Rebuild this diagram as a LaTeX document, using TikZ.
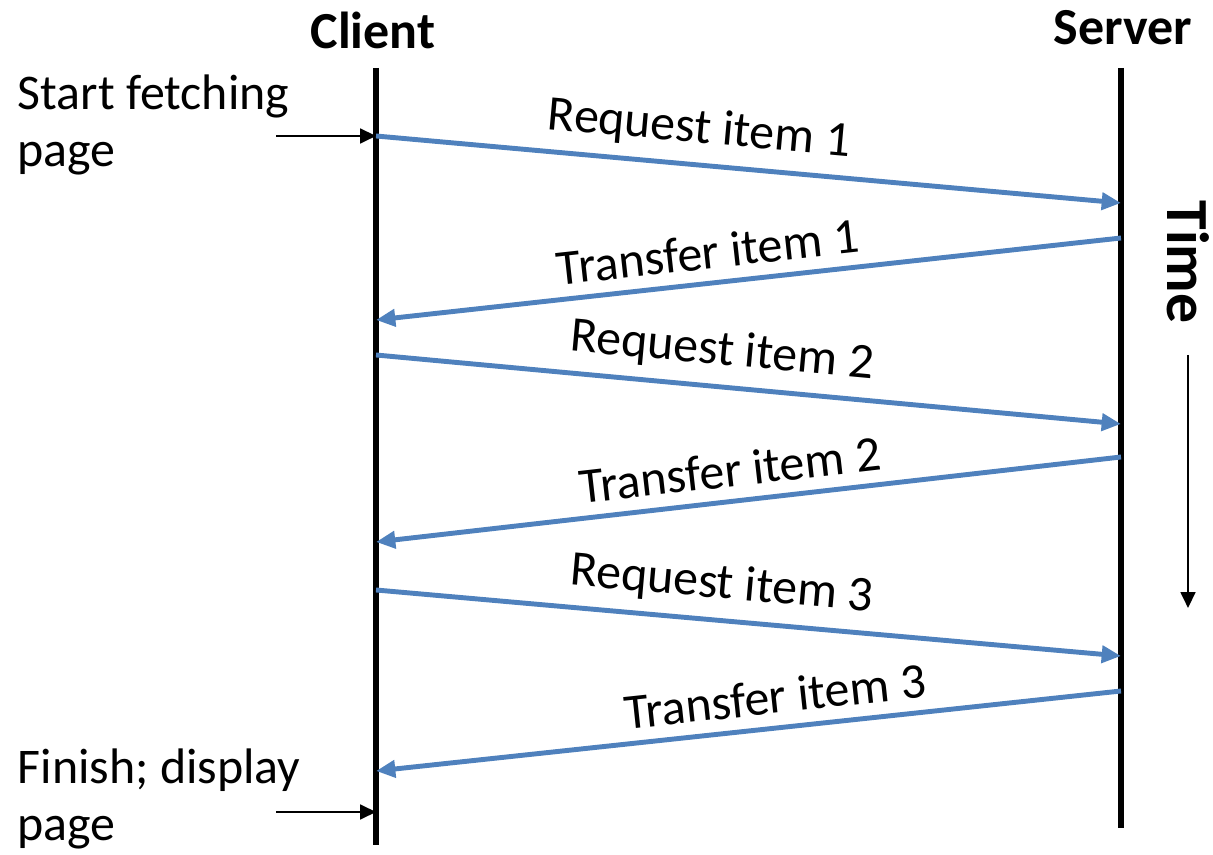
\documentclass[tikz,border=0pt]{standalone}
\usepackage{fontspec}
\setmainfont{Carlito}
\usepackage{tikz}
\usetikzlibrary{arrows.meta}
\usetikzlibrary{calc}

\definecolor{msgblue}{RGB}{79,129,189}
\tikzset{
  lifeline/.style={black, line width=1.5pt},
  msg/.style={draw=msgblue, line width=1.4pt, -{Triangle[length=5.5pt,width=4.8pt]}},
  msglabel/.style={sloped, above, font=\fontsize{14.2}{17}\selectfont},
  note/.style={black, line width=0.6pt, -{Triangle[length=4.5pt,width=4.2pt]}},
  notetext/.style={anchor=north west, inner sep=0pt, align=left, font=\fontsize{14.2}{16.2}\selectfont},
  party/.style={font=\fontsize{14.8}{17}\selectfont\bfseries}
}

\begin{document}
\begin{tikzpicture}
        \useasboundingbox (0,0) rectangle (12.13,8.55);

        % the two lifelines
        \node[party] (client) at (3.73,8.25) {Client};
        \node[party] (server) at (11.23,8.27) {Server};
        \coordinate (ctop) at (3.76,7.87);
        \coordinate (cbot) at (3.76,0.10);
        \coordinate (stop) at (11.21,7.87);
        \coordinate (sbot) at (11.21,0.27);
        \draw[lifeline] (ctop) -- (cbot);
        \draw[lifeline] (stop) -- (sbot);

        % points where the messages leave and arrive
        \coordinate (c1) at (3.76,7.19);
        \coordinate (s1) at (11.21,6.52);
        \coordinate (s2) at (11.21,6.17);
        \coordinate (c2) at (3.76,5.35);
        \coordinate (c3) at (3.76,5.00);
        \coordinate (s3) at (11.21,4.31);
        \coordinate (s4) at (11.21,3.98);
        \coordinate (c4) at (3.76,3.13);
        \coordinate (c5) at (3.76,2.65);
        \coordinate (s5) at (11.21,1.99);
        \coordinate (s6) at (11.21,1.64);
        \coordinate (c6) at (3.76,0.84);

        \draw[msg] (c1) -- node[msglabel, pos=0.43] {Request item 1} (s1);
        \draw[msg] (s2) -- node[msglabel, pos=0.55] {Transfer item 1} (c2);
        \draw[msg] (c3) -- node[msglabel, pos=0.46] {Request item 2} (s3);
        \draw[msg] (s4) -- node[msglabel, pos=0.52] {Transfer item 2} (c4);
        \draw[msg] (c5) -- node[msglabel, pos=0.46] {Request item 3} (s5);
        \draw[msg] (s6) -- node[msglabel, pos=0.46] {Transfer item 3} (c6);

        % start and finish
        \node[notetext] (starttext) at (0.17,7.81) {Start fetching\\page};
        \coordinate (startarr) at (2.76,7.19);
        \draw[note] (startarr) -- (c1);
        \node[notetext] (finishtext) at (0.17,1.07) {Finish; display\\page};
        \coordinate (finisharr) at (2.76,0.43);
        \coordinate (cfin) at (3.76,0.43);
        \draw[note] (finisharr) -- (cfin);

        % time axis
        \node[rotate=-90, font=\fontsize{17}{20}\selectfont\bfseries] (time) at (11.88,5.93) {Time};
        \coordinate (timetop) at (11.88,5.00);
        \coordinate (timebot) at (11.88,2.47);
        \draw[note] (timetop) -- (timebot);
    \end{tikzpicture}
\end{document}
